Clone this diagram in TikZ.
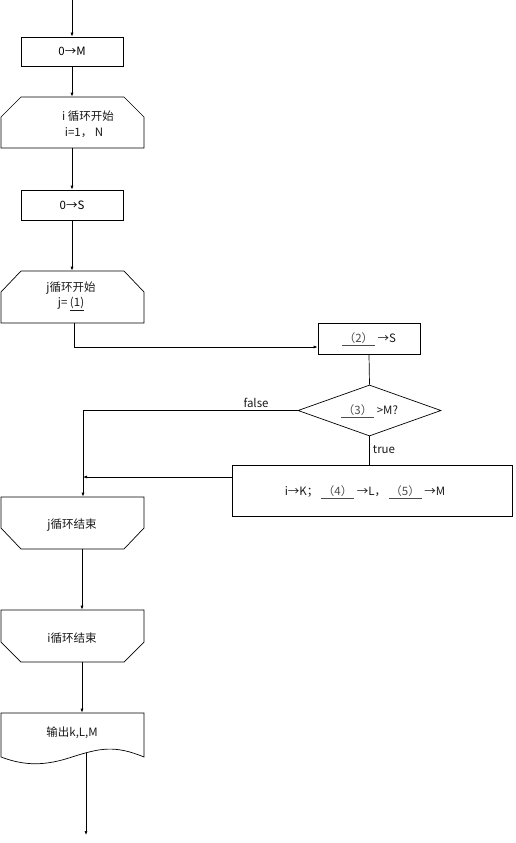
\documentclass[tikz,border=0pt]{standalone}
\usepackage{fontspec}
\setmainfont{Noto Sans CJK SC}
\usetikzlibrary{shapes.geometric,arrows.meta}
\begin{document}
\begin{tikzpicture}[x=1pt,y=-1pt,
  font=\fontsize{11.5}{13.5}\selectfont,
  line width=0.7pt,
  box/.style={draw,rectangle,inner sep=0pt},
  shapebox/.style={rectangle,inner sep=0pt,minimum width=143pt},
  arr/.style={-{Latex[length=4pt,width=3pt]}},
  lbl/.style={inner sep=0pt,text=black!90},
  blank/.style={text=black!70}]
\useasboundingbox (0,0) rectangle (515,843);

% top entry
\coordinate (top) at (72,0);
\node[box,minimum width=102pt,minimum height=29pt] (m0) at (72,51.5) {0→M};

% i loop start
\node[shapebox,minimum height=51pt] (is) at (72.5,122.5) {};
\draw (21,97) -- (124,97) -- (144,117) -- (144,148) -- (1,148) -- (1,117) -- cycle;
\node[lbl] (ist1) at (88,116) {i 循环开始};
\node[lbl] (ist2) at (84,133) {i=1， N};

% 0 -> S
\node[box,minimum width=102pt,minimum height=30pt] (s0) at (72,205) {0→S};

% j loop start
\node[shapebox,minimum height=52pt] (js) at (72.5,297) {};
\draw (21,271) -- (124,271) -- (144,292) -- (144,323) -- (1,323) -- (1,292) -- cycle;
\node[lbl] (jst1) at (71,288) {j循环开始};
\node[lbl] (jst2) at (71,304) {j= \underline{(1)}};

% (2) -> S
\node[box,minimum width=102pt,minimum height=31pt] (b2) at (369,338.5) {};
\node[lbl] (b2t) at (369,339) {{\color{black!70}\underline{\,（2）\,}} →S};

% decision
\node[draw,diamond,minimum width=143pt,minimum height=51pt,inner sep=0pt] (d) at (369.5,410.5) {};
\node[lbl] (dt) at (369.5,411) {{\color{black!70}\underline{\,（3）\,}} >M?};

% big box
\node[box,minimum width=280pt,minimum height=51pt] (b3) at (372,490.5) {};
\node[lbl] (b3t) at (365,492) {i→K； {\color{black!70}\underline{\,（4）\,}} →L， {\color{black!70}\underline{\,（5）\,}} →M};

% j loop end
\node[shapebox,minimum height=52pt] (je) at (72.5,523) {};
\draw (1,497) -- (144,497) -- (144,528) -- (124,549) -- (21,549) -- (1,528) -- cycle;
\node[lbl] (jet) at (72,525) {j循环结束};

% i loop end
\node[shapebox,minimum height=52pt] (ie) at (72.5,636) {};
\draw (1,610) -- (144,610) -- (144,642) -- (124,662) -- (21,662) -- (1,642) -- cycle;
\node[lbl] (iet) at (72,638) {i循环结束};

% output document
\node[shapebox,minimum height=44pt] (out) at (72.5,735) {};
\draw (1,713) -- (144,713) -- (144,757)
  .. controls (115,745) and (100,748) .. (72,757)
  .. controls (45,766) and (25,766) .. (1,757) -- cycle;
\node[lbl] (outt) at (72,733) {输出k,L,M};
\coordinate (outs) at (86,753);
\coordinate (bottom) at (86,835);

% connectors
\draw[arr] (top) -- (m0.north);
\draw[arr] (m0.south) -- (m0.south |- is.north);
\draw[arr] (s0.north |- is.south) -- (s0.north);
\draw[arr] (s0.south) -- (s0.south |- js.north);
\draw[arr] ([xshift=1.5pt]js.south) |- ([yshift=-8.5pt]b2.west);
\draw (b2.south) -- (d.north);
\draw[arr] (d.west) -| ([xshift=10.5pt]je.north);
\node[lbl] (flbl) at (256,403) {false};
\draw (d.south) -- (d.south |- b3.north);
\node[lbl] (tlbl) at (384,450) {true};
\coordinate (mj) at (83,477);
\draw[arr] ([yshift=13.5pt]b3.west) -- (mj);
\draw[arr] ([xshift=9.5pt]je.south) -- ([xshift=9.5pt]ie.north);
\draw[arr] ([xshift=9.5pt]ie.south) -- ([xshift=9.5pt]out.north);
\draw[arr] (outs) -- (bottom);
\end{tikzpicture}
\end{document}
